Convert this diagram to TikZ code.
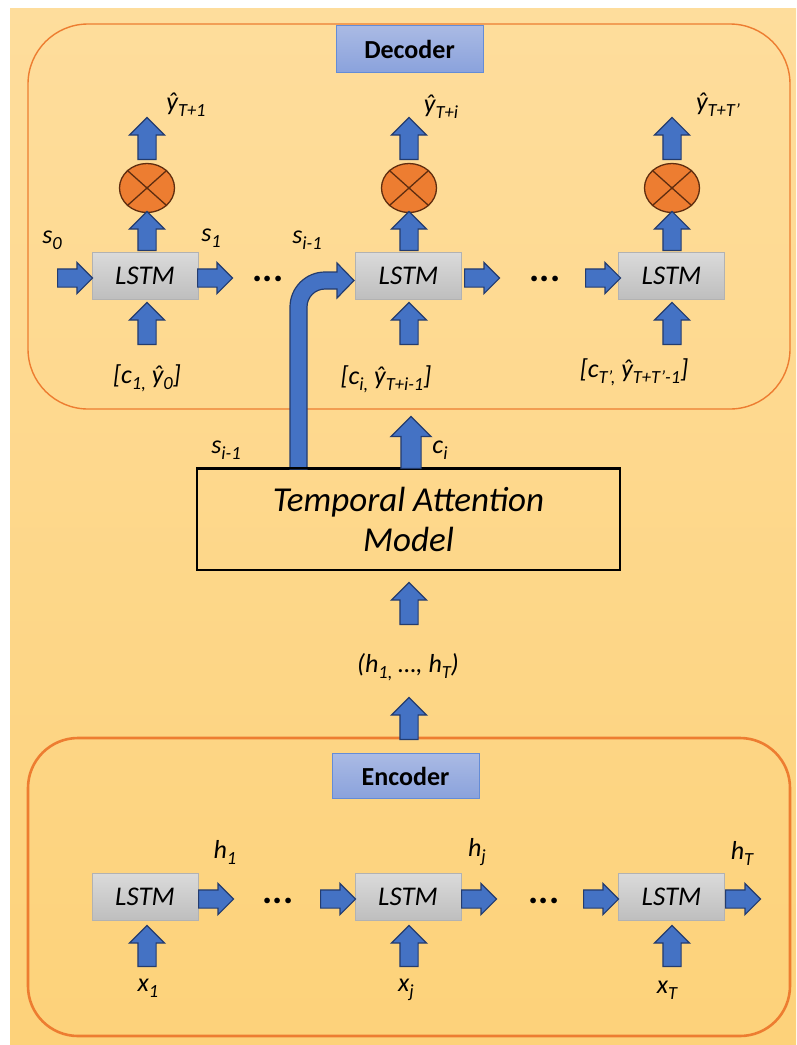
\documentclass[tikz,border=0pt]{standalone}
\usepackage{fontspec}
\setmainfont{Carlito}
\usetikzlibrary{shapes.geometric,shapes.arrows}

\definecolor{bgtop}{RGB}{254,221,156}
\definecolor{bgbot}{RGB}{253,210,122}
\definecolor{frame}{RGB}{237,125,49}
\definecolor{arrfill}{RGB}{68,114,196}
\definecolor{arrline}{RGB}{36,60,110}
\definecolor{celltop}{RGB}{218,218,218}
\definecolor{cellbot}{RGB}{190,190,190}
\definecolor{cellline}{RGB}{178,178,178}
\definecolor{mulfill}{RGB}{237,125,49}
\definecolor{mulline}{RGB}{95,45,15}
\definecolor{tagtop}{RGB}{170,186,228}
\definecolor{tagbot}{RGB}{138,162,220}
\definecolor{tagline}{RGB}{100,140,215}

% lowered index in the running text size
\newcommand\lo[1]{\raisebox{-6pt}{\fontsize{18.5}{18.5}\selectfont #1}}

\tikzset{
  lbl/.style={font=\fontsize{26}{26}\selectfont\itshape, inner sep=0pt},
  dots/.style={font=\fontsize{38}{38}\selectfont\bfseries, inner sep=0pt},
  cell/.style={draw=cellline, line width=1pt, top color=celltop, bottom color=cellbot,
    minimum width=106pt, minimum height=47pt, inner sep=0pt,
    font=\fontsize{27}{27}\selectfont\itshape},
  mul/.style={ellipse, draw=mulline, fill=mulfill, line width=1.3pt,
    minimum width=55pt, minimum height=49pt, inner sep=0pt},
  tag/.style={draw=tagline, line width=1pt, top color=tagtop, bottom color=tagbot,
    minimum width=147pt, minimum height=47pt, inner sep=0pt,
    font=\fontsize{26}{26}\selectfont\bfseries},
  rarrow/.style={single arrow, draw=arrline, fill=arrfill, line width=1.2pt,
    inner xsep=0pt, inner ysep=8.5pt, single arrow head extend=6.5pt,
    single arrow tip angle=90, minimum height=35pt, minimum width=1pt,
    anchor=tail},
  uarrow/.style={rarrow, rotate=90, single arrow head extend=8.5pt,
    minimum height=42pt},
  panel/.style={draw=frame, rounded corners=#1},
}

\begin{document}
\begin{tikzpicture}[x=1pt,y=-1pt]
  \useasboundingbox (0,0) rectangle (796,1045);
  % page background
  \shade[top color=bgtop, bottom color=bgbot] (10,8) rectangle (796,1045);

  % panels
  \draw[panel=60pt, line width=1.4pt] (28,24) rectangle (790,409);
  \draw[panel=50pt, line width=2.6pt] (28,738) rectangle (790,1036);
  \node[tag] (dectag) at (409.5,49) {Decoder};
  \node[tag, minimum height=45pt] (enctag) at (405.5,776) {Encoder};

  % ---------------- decoder ----------------
  \node[cell] (d1) at (145,276) {LSTM};
  \node[cell] (d2) at (408.5,276) {LSTM};
  \node[cell] (d3) at (671.5,276) {LSTM};

  \node[mul] (m1) at (147,188) {};
  \node[mul] (m2) at (409,188) {};
  \node[mul] (m3) at (672,188) {};
  \foreach \m in {m1,m2,m3}{
    \draw[mulline, line width=1.3pt] (\m.north west) -- (\m.south east)
                                      (\m.north east) -- (\m.south west);
  }

  % vertical block arrows of the decoder columns
  \foreach \n/\x in {1/147,2/409,3/672}{
    \node[uarrow] (yo\n) at (\x,160) {};
    \node[uarrow, minimum height=39pt] (ho\n) at (\x,251) {};
    \node[uarrow] (in\n) at (\x,345) {};
  }

  % horizontal block arrows of the decoder row
  \node[rarrow] (s0a) at (57,278) {};
  \node[rarrow] (s1a) at (197,278) {};
  \node[rarrow] (d2a) at (464,278) {};
  \node[rarrow] (d3a) at (585,278) {};
  \node[dots] (dd1) at (268,279) {...};
  \node[dots] (dd2) at (545,279) {...};

  % decoder labels
  \node[lbl] (ls0) at (52,240) {s\lo{0}};
  \node[lbl] (ls1) at (211,238) {s\lo{1}};
  \node[lbl] (lsi) at (307,240) {s\lo{i-1}};
  \node[lbl] (ly1) at (186,105) {ŷ\lo{T+1}};
  \node[lbl] (lyi) at (441,107) {ŷ\lo{T+i}};
  \node[lbl] (lyT) at (718,105) {ŷ\lo{T+T’}};
  \node[lbl] (lc1) at (147,378) {[c\lo{1,} ŷ\lo{0}]};
  \node[lbl] (lci) at (386,379) {[c\lo{i,} ŷ\lo{T+i-1}]};
  \node[lbl] (lcT) at (634,372) {[c\lo{T’,} ŷ\lo{T+T’-1}]};

  % ---------------- attention ----------------
  \node[draw=black, line width=2pt, minimum width=423pt, minimum height=101pt,
        align=center, font=\fontsize{35}{40}\selectfont\itshape]
        (tam) at (408.5,519.5) {Temporal Attention\\Model};

  % previous decoder state fed back into the i-th cell
  \coordinate (bendfoot) at (298.5,469);
  \draw[arrline, fill=arrfill, line width=1.2pt]
    (bendfoot) ++(-8.5,0) -- (290,307)
    .. controls (290,287.7) and (305.7,272) .. (325,272)
    -- (337,272) -- (337,263) -- (354,280.5) -- (337,298) -- (337,289)
    -- (325,289) .. controls (315.1,289) and (307,297.1) .. (307,307)
    -- (307,469) -- cycle;
  \draw[black, line width=2pt] (tam.north west) -- (tam.north east);

  \node[uarrow, inner ysep=9.5pt, single arrow head extend=10pt,
        minimum height=52pt] (cia) at (411,469) {};
  \node[lbl] (lsi2) at (226,450) {s\lo{i-1}};
  \node[lbl] (lci2) at (440,450) {c\lo{i}};

  \node[uarrow] (ha) at (409,625) {};
  \node[lbl] (lh) at (408,667) {(h\lo{1,} …, h\lo{T})};
  \node[uarrow] (hb) at (409,740) {};

  % ---------------- encoder ----------------
  \node[cell] (e1) at (145,897) {LSTM};
  \node[cell] (e2) at (408,897) {LSTM};
  \node[cell] (e3) at (671.5,897) {LSTM};

  \foreach \n/\x in {1/147,2/409,3/672}{
    \node[uarrow, minimum height=41pt] (xa\n) at (\x,967) {};
  }
  \node[rarrow] (e1a) at (198,899) {};
  \node[rarrow] (e2i) at (320,899) {};
  \node[rarrow] (e2a) at (461,899) {};
  \node[rarrow] (e3i) at (583,899) {};
  \node[rarrow] (e3a) at (725,899) {};
  \node[dots] (ed1) at (278,901) {...};
  \node[dots] (ed2) at (544,901) {...};

  \node[lbl] (lh1) at (225,852) {h\lo{1}};
  \node[lbl] (lhj) at (477,852) {h\lo{j}};
  \node[lbl] (lhT) at (742,853) {h\lo{T}};
  \node[lbl] (lx1) at (148,988) {x\lo{1}};
  \node[lbl] (lxj) at (406,990) {x\lo{j}};
  \node[lbl] (lxT) at (667,990) {x\lo{T}};
\end{tikzpicture}
\end{document}
